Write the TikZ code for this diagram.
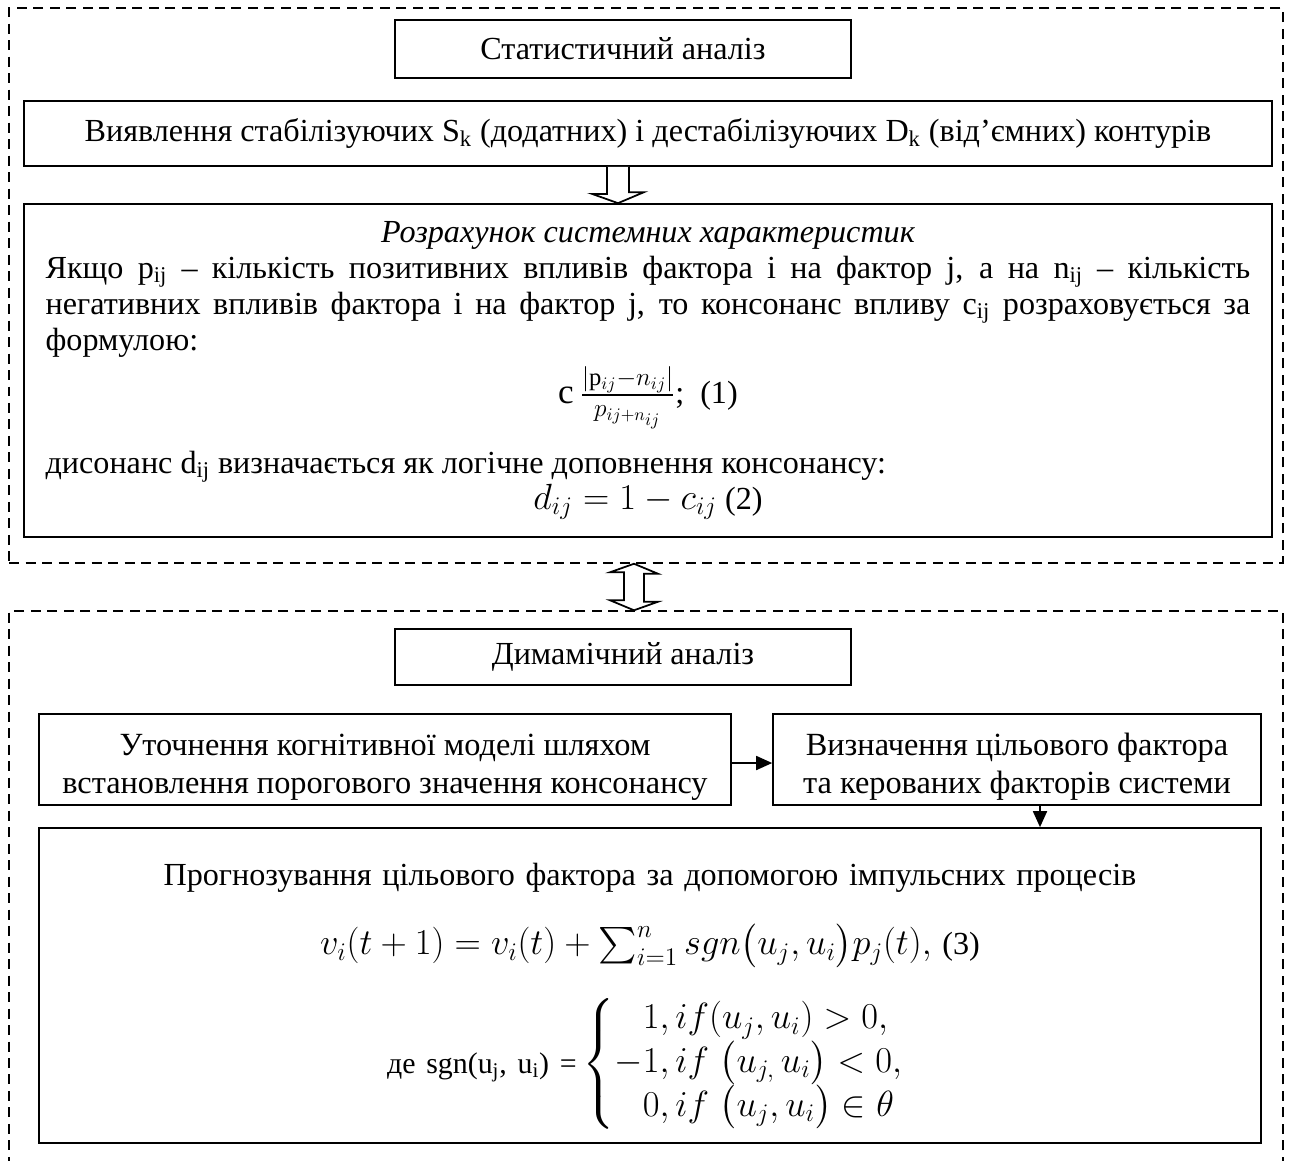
\documentclass[tikz,border=0pt]{standalone}
\usepackage{amsmath}
\usepackage{fontspec}
\setmainfont{Liberation Serif}
\usetikzlibrary{arrows.meta,calc}
\tikzset{
  box/.style={rectangle, draw, line width=1pt, inner sep=0pt, align=center, font=\fontsize{18.3}{20.5}\selectfont},
  bigbox/.style={box, align=justify},
  group/.style={rectangle, draw, line width=0.9pt, dash pattern=on 0.2cm off 0.13cm, inner sep=0pt},
  arrow/.style={-{Triangle[length=0.32cm,width=0.28cm]}, line width=1pt},
  hollow/.style={line width=1pt, fill=white}
}
\newcommand{\mathsize}{\fontsize{20}{24}\selectfont}
\begin{document}
\begin{tikzpicture}[x=0.02cm, y=-0.02cm]
\useasboundingbox (0,0) rectangle (1290,1160);
\node[group, minimum width=25.48cm, minimum height=11.1cm] (statgroup) at (646,285.5) {};
\node[group, minimum width=25.48cm, minimum height=11.38cm] (dyngroup) at (646,895.5) {};
\node[box, minimum width=9.12cm, minimum height=1.16cm] (stat) at (623,49) {Статистичний аналіз};
\node[box, minimum width=24.96cm, minimum height=1.3cm] (detect) at (648,133.5) {Виявлення стабілізуючих S\textsubscript{k} (додатних) і дестабілізуючих D\textsubscript{k} (від’ємних) контурів};
\node[bigbox, minimum width=24.96cm, minimum height=6.66cm, text width=24.1cm] (calc) at (648,370.5) {%
\lineskiplimit=-\maxdimen
{\centering\itshape Розрахунок системних характеристик\par}
Якщо p\textsubscript{ij} – кількість позитивних впливів фактора і на фактор j, а на n\textsubscript{ij} – кількість негативних впливів фактора і на фактор j, то консонанс впливу c\textsubscript{ij} розраховується за формулою:\par
\vspace{10pt}
{\centering {\mathsize$\mathrm{c}\,\frac{\lvert \mathrm{p}_{ij}-n_{ij}\rvert}{p_{ij+n_{ij}}}$};\ \ (1)\par}
\vspace{19pt}
дисонанс d\textsubscript{ij} визначається як логічне доповнення консонансу:\par
\vspace{0pt}
{\centering {\mathsize$d_{ij}=1-c_{ij}$} (2)\par}};
\node[box, minimum width=9.12cm, minimum height=1.12cm] (dyn) at (623,657) {Димамічний аналіз};
\node[box, minimum width=13.84cm, minimum height=1.82cm, font=\fontsize{18.4}{21.6}\selectfont] (refine) at (385,759.5) {\rule{0pt}{21pt}Уточнення когнітивної моделі шляхом\\встановлення порогового значення консонансу};
\node[box, minimum width=9.76cm, minimum height=1.82cm, font=\fontsize{18.4}{21.6}\selectfont] (ident) at (1017,759.5) {\rule{0pt}{21pt}Визначення цільового фактора\\та керованих факторів системи};
\node[box, minimum width=24.44cm, minimum height=6.3cm, text width=23.5cm] (forecast) at (650,985.5) {%
\centering\lineskiplimit=-\maxdimen
\rule{0pt}{25pt}Прогнозування цільового фактора за допомогою імпульсних процесів\par
\vspace{19pt}
{\mathsize$v_i(t+1)=v_i(t)+\sum_{i=1}^{n} sgn\bigl(u_j,u_i\bigr)p_j(t),$}\ (3)\par
\vspace{47pt}
{\fontsize{17}{20.5}\selectfont де sgn(u\textsubscript{j}, u\textsubscript{i}) =}\,{\mathsize\lineskiplimit=0pt$\left\{\begin{array}{@{}l}
\phantom{-}1, if(u_j,u_i)>0,\\
-1, if\ \bigl(u_{j,}\,u_i\bigr)<0,\\
\phantom{-}0, if\ \bigl(u_j,u_i\bigr)\in\theta
\end{array}\right.$}\par};
\draw[hollow] ($(detect.south)+(-41,0)$) -- ++(0,27) -- ++(-15,0) -- ($(calc.north)+(-30,0)$) -- ++(26,-11) -- ++(-15,0) -- ($(detect.south)+(-19,0)$);
\draw[hollow] ($(statgroup.south)+(-12,0)$) -- ++(24,10) -- ++(-14,0) -- ++(0,28) -- ++(14,0) -- ($(dyngroup.north)+(-12,0)$) -- ++(-24,-10) -- ++(14,0) -- ++(0,-28) -- ++(-14,0) -- cycle;
\draw[arrow] ([yshift=-0.07cm]refine.east) -- ([yshift=-0.07cm]ident.west);
\draw[arrow] ([xshift=0.46cm]ident.south) -- ([xshift=0.46cm]ident.south |- forecast.north);
\end{tikzpicture}
\end{document}
